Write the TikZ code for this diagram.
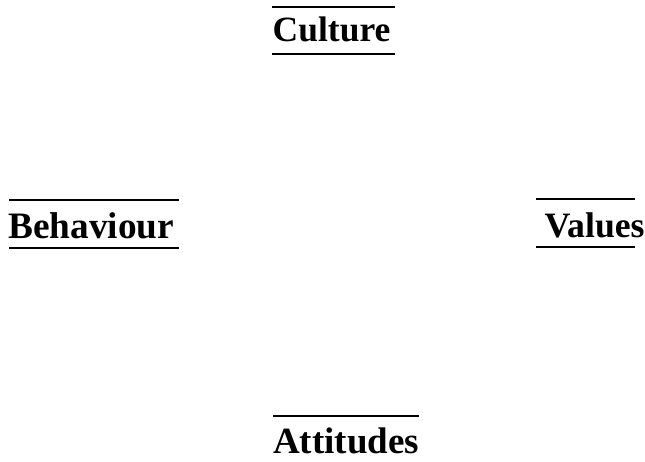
\documentclass[tikz,border=0pt]{standalone}
\usepackage{fontspec}
\setmainfont{Liberation Serif}
\begin{document}
\begin{tikzpicture}[x=1pt,y=-1pt,
  lbl/.style={inner sep=0pt, anchor=base west},
  rule/.style={line width=2pt}]
\useasboundingbox (0,0) rectangle (645,462);
\node[lbl, font=\fontsize{35.5}{40}\selectfont\bfseries] (cul) at (272.5,41.5) {Culture};
\node[lbl, font=\fontsize{37.3}{42}\selectfont\bfseries] (beh) at (8,238.5) {Behaviour};
\node[lbl, font=\fontsize{35.7}{40}\selectfont\bfseries] (val) at (544.5,238) {Values};
\node[lbl, font=\fontsize{37}{42}\selectfont\bfseries] (att) at (273,453.5) {Attitudes};
\draw[rule] (272,7) -- (395,7);
\draw[rule] (272,54) -- (395,54);
\draw[rule] (9,200) -- (179,200);
\draw[rule] (9,248) -- (179,248);
\draw[rule] (536,199) -- (635,199);
\draw[rule] (536,247) -- (635,247);
\draw[rule] (273,416) -- (419,416);
\end{tikzpicture}
\end{document}
